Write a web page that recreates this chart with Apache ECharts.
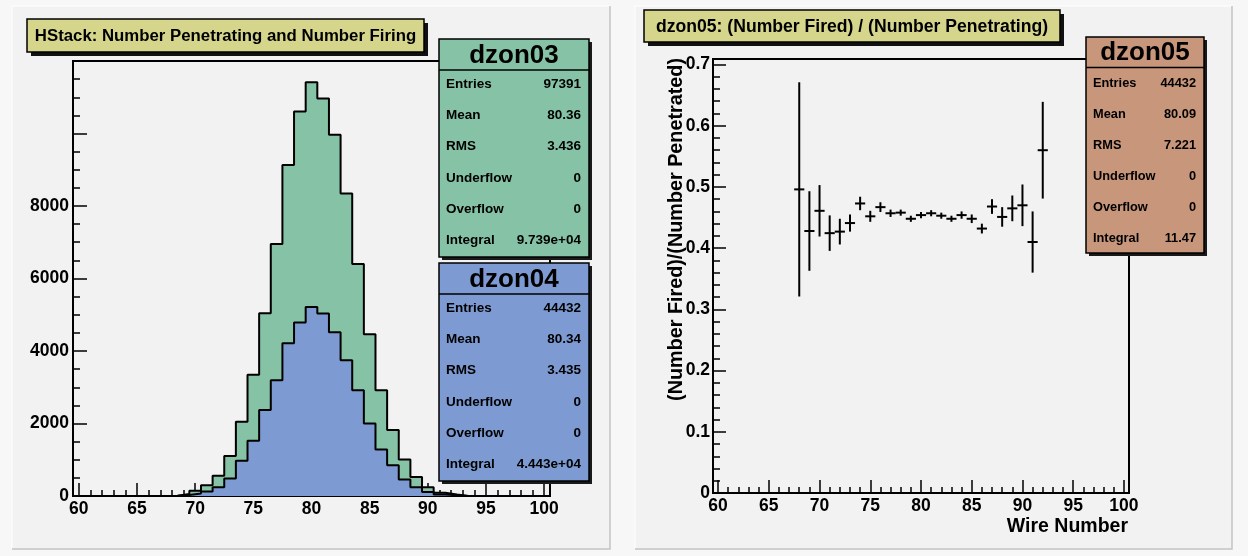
<!DOCTYPE html>
<html><head><meta charset="utf-8">
<script src="https://cdn.jsdelivr.net/npm/echarts@6/dist/echarts.min.js"></script>
<style>html,body{margin:0;padding:0;background:#f7f7f7}#c{width:1248px;height:556px}</style>
</head><body><div id="c"></div>
<script>
// ---------- data ----------
const wireBins = [67,68,69,70,71,72,73,74,75,76,77,78,79,80,81,82,83,84,85,86,87,88,89,90,91,92,93];
const dzon03Counts = [0,8,58,147,294,560,1102,2048,3342,5041,6951,9128,10606,11414,10964,9963,8347,6400,4463,2920,1818,1010,523,239,92,40,0];
const dzon04Counts = [0,4,25,68,125,239,486,974,1524,2369,3196,4215,4784,5216,5032,4518,3747,2920,2000,1286,845,455,239,112,38,22,0];
const ratioWires = [68,69,70,71,72,73,74,75,76,77,78,79,80,81,82,83,84,85,86,87,88,89,90,91,92];
const ratioValues = [0.496,0.428,0.461,0.4245,0.427,0.441,0.473,0.452,0.467,0.457,0.458,0.448,0.454,0.457,0.453,0.448,0.454,0.448,0.432,0.468,0.451,0.465,0.470,0.410,0.560];
const ratioErrors = [0.175,0.065,0.042,0.029,0.021,0.014,0.011,0.009,0.008,0.006,0.005,0.005,0.005,0.005,0.005,0.005,0.006,0.007,0.008,0.012,0.016,0.021,0.034,0.050,0.079];
const xMajorTicks = [60,65,70,75,80,85,90,95,100];
const statLabels = ['Entries','Mean','RMS','Underflow','Overflow','Integral'];
const stats03 = ['97391','80.36','3.436','0','0','9.739e+04'];
const stats04 = ['44432','80.34','3.435','0','0','4.443e+04'];
const stats05 = ['44432','80.09','7.221','0','0','11.47'];
const leftTitle = 'HStack: Number Penetrating and Number Firing';
const rightTitle = 'dzon05: (Number Fired) / (Number Penetrating)';
const rightYTitle = '(Number Fired)/(Number Penetrated)';
const rightXTitle = 'Wire Number';

// ---------- helpers ----------
const F = '"Liberation Sans", Arial, Helvetica, sans-serif';
const xMinorTicks = [];
for (let v = 60; v <= 100; v++) xMinorTicks.push(v);

function stepPoints(centers, counts) {
  const pts = [[centers[0] - 0.5, 0]];
  for (let i = 0; i < centers.length; i++) pts.push([centers[i] + 0.5, counts[i]]);
  pts.push([centers[centers.length - 1] + 0.5, 0]);
  return pts;
}

function statsBox(x, y, w, h, hdrH, name, vals, color, fs, rowStart, rowStep) {
  const els = [
    {type:'rect', z:100, shape:{x:x+3, y:y+3, width:w, height:h}, style:{fill:'#1a1a1a'}},
    {type:'rect', z:101, shape:{x:x, y:y, width:w, height:h}, style:{fill:color, stroke:'#000', lineWidth:1.5}},
    {type:'line', z:102, shape:{x1:x, y1:y+hdrH, x2:x+w, y2:y+hdrH}, style:{stroke:'#000', lineWidth:1.5}},
    {type:'text', z:103, style:{text:name, x:x+w/2, y:y+hdrH/2+1, fill:'#000', font:'bold 26px '+F, textAlign:'center', textVerticalAlign:'middle'}}
  ];
  statLabels.forEach((lab, i) => {
    const yy = y + rowStart + i*rowStep;
    els.push({type:'text', z:103, style:{text:lab, x:x+7, y:yy, fill:'#000', font:'bold '+fs+'px '+F, textAlign:'left', textVerticalAlign:'middle'}});
    els.push({type:'text', z:103, style:{text:vals[i], x:x+w-8, y:yy, fill:'#000', font:'bold '+fs+'px '+F, textAlign:'right', textVerticalAlign:'middle'}});
  });
  return els;
}

function titleBox(x, y, w, h, text, fs) {
  return [
    {type:'rect', z:100, shape:{x:x+4, y:y+4, width:w, height:h}, style:{fill:'#111'}},
    {type:'rect', z:101, shape:{x:x, y:y, width:w, height:h}, style:{fill:'#d5d58c', stroke:'#000', lineWidth:1.5}},
    {type:'text', z:102, style:{text:text, x:x+w/2, y:y+h/2+1, fill:'#000', font:'bold '+fs+'px '+F, textAlign:'center', textVerticalAlign:'middle'}}
  ];
}

function pad(x, y, w, h) {
  return [
    {type:'rect', z:-10, shape:{x:x, y:y, width:w, height:h}, style:{fill:'#f2f2f2', stroke:null}},
    {type:'polyline', z:-9, shape:{points:[[x, y+h],[x, y],[x+w, y]]}, style:{stroke:'#ffffff', lineWidth:1, fill:null}},
    {type:'polyline', z:-9, shape:{points:[[x+w, y],[x+w, y+h],[x, y+h]]}, style:{stroke:'#c4c4c4', lineWidth:1.5, fill:null}}
  ];
}

const labelStyle = {color:'#000', fontFamily:F, fontWeight:'bold', fontSize:17.5};

function xAxes(gridIndex) {
  return [
    {type:'value', gridIndex, min:59.5, max:100.5, position:'bottom',
     axisLine:{show:true, onZero:false, lineStyle:{color:'#000', width:2}},
     axisTick:{show:true, inside:true, length:13, customValues:xMajorTicks, lineStyle:{color:'#000', width:1.5}},
     axisLabel:Object.assign({show:true, margin:4, customValues:xMajorTicks, formatter:v=>String(v)}, labelStyle),
     splitLine:{show:false}},
    {type:'value', gridIndex, min:59.5, max:100.5, position:'bottom',
     axisLine:{show:false},
     axisTick:{show:true, inside:true, length:6, customValues:xMinorTicks, lineStyle:{color:'#000', width:1.5}},
     axisLabel:{show:false}, splitLine:{show:false}}
  ];
}

const hist03 = stepPoints(wireBins, dzon03Counts);
const hist04 = stepPoints(wireBins, dzon04Counts);
const ratioData = ratioWires.map((w, i) => [w, ratioValues[i], ratioErrors[i]]);

const graphics = [].concat(
  pad(12, 6, 598, 543),
  pad(635, 6, 597, 543),
  titleBox(27, 19, 397, 33, leftTitle, 16.8),
  titleBox(644, 10, 416, 32, rightTitle, 17.6),
  statsBox(439, 39, 150, 218, 31, 'dzon03', stats03, '#86c3a6', 13.5, 45, 31.3),
  statsBox(439, 263, 150, 218, 31, 'dzon04', stats04, '#7d9bd2', 13.5, 45, 31.3),
  statsBox(1086, 37, 118, 216, 30.5, 'dzon05', stats05, '#c8967b', 12.8, 46, 31.1),
  [
    {type:'text', z:50, x:677, y:58, rotation:Math.PI/2,
     style:{text:rightYTitle, x:0, y:0, fill:'#000', font:'bold 19.8px '+F, textAlign:'right', textVerticalAlign:'middle'}},
    {type:'text', z:50, style:{text:rightXTitle, x:1128, y:527, fill:'#000', font:'bold 19.5px '+F, textAlign:'right', textVerticalAlign:'middle'}}
  ]
);

const chart = echarts.init(document.getElementById('c'), null, {renderer:'canvas'});
chart.setOption({
  animation:false,
  backgroundColor:'#f7f7f7',
  grid:[
    {left:73, top:61, width:477, height:435, show:true, borderColor:'#000', borderWidth:2, backgroundColor:'transparent', outerBoundsMode:'none'},
    {left:713, top:59, width:416, height:434, show:true, borderColor:'#000', borderWidth:2, backgroundColor:'transparent', outerBoundsMode:'none'}
  ],
  xAxis:[].concat(xAxes(0), xAxes(1)),
  yAxis:[
    {type:'value', gridIndex:0, min:0, max:12000, interval:2000,
     axisLine:{show:true, lineStyle:{color:'#000', width:2}},
     axisTick:{show:true, inside:true, length:14, lineStyle:{color:'#000', width:1.5}},
     minorTick:{show:true, splitNumber:4, length:7, lineStyle:{color:'#000', width:1.5}},
     axisLabel:Object.assign({margin:4, formatter:v => v > 8000 ? '' : String(v)}, labelStyle),
     splitLine:{show:false}},
    {type:'value', gridIndex:1, min:0, max:0.709, interval:0.1,
     axisLine:{show:true, lineStyle:{color:'#000', width:2}},
     axisTick:{show:true, inside:true, length:13, lineStyle:{color:'#000', width:1.5}},
     minorTick:{show:true, splitNumber:5, length:7, lineStyle:{color:'#000', width:1.5}},
     axisLabel:Object.assign({margin:3, formatter:v => v === 0 ? '0' : v.toFixed(1)}, labelStyle),
     splitLine:{show:false}}
  ],
  series:[
    {type:'line', name:'dzon03', xAxisIndex:0, yAxisIndex:0, data:hist03, step:'start', symbol:'none',
     lineStyle:{color:'#000', width:2}, areaStyle:{color:'#86c3a6', opacity:1}, z:2},
    {type:'line', name:'dzon04', xAxisIndex:0, yAxisIndex:0, data:hist04, step:'start', symbol:'none',
     lineStyle:{color:'#000', width:2}, areaStyle:{color:'#7d9bd2', opacity:1}, z:3},
    {type:'custom', name:'ratio', xAxisIndex:2, yAxisIndex:1, data:ratioData, z:4,
     renderItem:function(params, api){
       const x = api.value(0), y = api.value(1), e = api.value(2);
       const a = api.coord([x-0.5, y]), b = api.coord([x+0.5, y]);
       const c = api.coord([x, y+e]), d = api.coord([x, y-e]);
       return {type:'group', children:[
         {type:'line', shape:{x1:a[0], y1:a[1], x2:b[0], y2:b[1]}, style:{stroke:'#000', lineWidth:2}},
         {type:'line', shape:{x1:c[0], y1:c[1], x2:d[0], y2:d[1]}, style:{stroke:'#000', lineWidth:2}}
       ]};
     }}
  ],
  graphic:graphics
});
</script>
</body></html>
